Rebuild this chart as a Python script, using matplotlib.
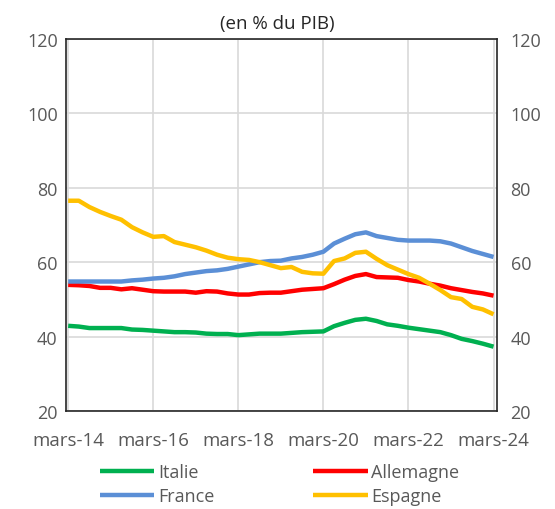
import numpy as np
import matplotlib
matplotlib.use("Agg")
import matplotlib.pyplot as plt

plt.rcParams['font.family'] = ['Open Sans', 'DejaVu Sans']

# Quarterly data, mars-14 .. mars-24 (en % du PIB)
quarters = np.arange(41)
tick_pos = [0, 8, 16, 24, 32, 40]
tick_labels = ["mars-14", "mars-16", "mars-18", "mars-20", "mars-22", "mars-24"]

italie = [42.9, 42.7, 42.3, 42.3, 42.3, 42.3, 41.9, 41.8, 41.6, 41.4,
          41.2, 41.2, 41.1, 40.8, 40.7, 40.7, 40.4, 40.6, 40.8, 40.8,
          40.8, 41.0, 41.2, 41.3, 41.4, 42.8, 43.7, 44.5, 44.8, 44.2,
          43.3, 42.9, 42.4, 42.0, 41.6, 41.2, 40.4, 39.4, 38.8, 38.1, 37.3]
allemagne = [53.9, 53.8, 53.6, 53.1, 53.1, 52.7, 53.0, 52.6, 52.2, 52.1,
             52.1, 52.1, 51.8, 52.2, 52.1, 51.6, 51.3, 51.3, 51.7, 51.8,
             51.8, 52.2, 52.6, 52.8, 53.0, 54.1, 55.3, 56.3, 56.8, 56.0,
             55.9, 55.8, 55.2, 54.8, 54.2, 53.7, 53.0, 52.5, 52.0, 51.6, 51.0]
france = [54.8, 54.8, 54.8, 54.8, 54.8, 54.8, 55.1, 55.3, 55.6, 55.8,
          56.2, 56.8, 57.2, 57.6, 57.8, 58.2, 58.8, 59.4, 60.0, 60.3,
          60.4, 61.0, 61.4, 62.0, 62.8, 65.0, 66.3, 67.5, 68.0, 67.0,
          66.5, 66.0, 65.8, 65.8, 65.8, 65.6, 65.0, 64.0, 63.0, 62.2, 61.4]
espagne = [76.5, 76.5, 74.8, 73.5, 72.4, 71.4, 69.4, 68.0, 66.8, 67.0,
           65.4, 64.7, 64.0, 63.1, 62.0, 61.2, 60.8, 60.6, 60.0, 59.2,
           58.4, 58.7, 57.4, 57.0, 56.9, 60.3, 61.0, 62.5, 62.8, 60.9,
           59.2, 58.0, 56.8, 55.8, 54.2, 52.5, 50.6, 50.1, 48.0, 47.3, 46.0]

grey = "#595959"

fig = plt.figure(figsize=(5.55, 5.1), dpi=100)
ax = fig.add_axes([0.119, 0.192, 0.776, 0.730])

l_it, = ax.plot(quarters, italie, color="#00b050", lw=3.2, label="Italie", solid_capstyle="butt")
l_al, = ax.plot(quarters, allemagne, color="#ff0000", lw=3.2, label="Allemagne", solid_capstyle="butt")
l_fr, = ax.plot(quarters, france, color="#5b8fd6", lw=3.2, label="France", solid_capstyle="butt")
l_es, = ax.plot(quarters, espagne, color="#ffc000", lw=3.2, label="Espagne", solid_capstyle="butt")

ax.set_xlim(-0.2, 40.3)
ax.set_ylim(20, 120)
ax.set_yticks(range(20, 121, 20))
ax.set_xticks(tick_pos)
ax.set_xticklabels(tick_labels)
ax.grid(True, color="#d9d9d9", lw=1.2)
ax.set_axisbelow(True)
ax.tick_params(length=0, labelsize=13, colors=grey, pad=6)
ax.tick_params(axis="x", pad=14, labelsize=13.5)
for s in ax.spines.values():
    s.set_color("#262626")
    s.set_linewidth(1.2)

ax2 = ax.twinx()
ax2.set_ylim(20, 120)
ax2.set_yticks(range(20, 121, 20))
ax2.tick_params(length=0, labelsize=13, colors=grey, pad=10)
for s in ax2.spines.values():
    s.set_visible(False)

fig.text(0.5, 0.952, "(en % du PIB)", ha="center", va="center", fontsize=13.5, color="#262626")

# column-first fill: Italie/France in col 1, Allemagne/Espagne in col 2
ax.legend([l_it, l_fr, l_al, l_es], ["Italie", "France", "Allemagne", "Espagne"],
          loc="upper center", bbox_to_anchor=(0.496, -0.12), ncol=2, frameon=False,
          fontsize=13, labelcolor=grey, handlelength=3.0, handletextpad=0.2,
          columnspacing=5.5, borderaxespad=0, labelspacing=0.35)

fig.savefig("out.png", dpi=100)
